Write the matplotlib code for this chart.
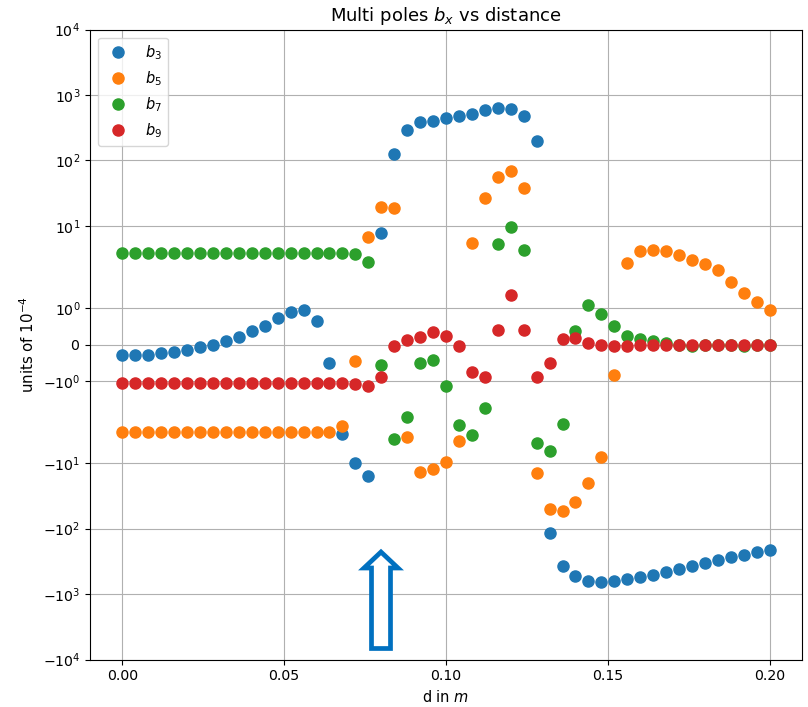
import numpy as np
import matplotlib
matplotlib.use("Agg")
import matplotlib.pyplot as plt
from matplotlib.patches import Polygon

# ---- data ----
d = np.round(np.arange(51) * 0.004, 4)

b3 = [-0.28, -0.28, -0.28, -0.24, -0.2, -0.14, -0.07, 0.0, 0.1, 0.21,
      0.37, 0.52, 0.73, 0.89, 0.96, 0.65, -0.51, -3.57, -10.0, -15.7,
      7.85, 126, 296, 384, 402, 442, 479, 519, 597, 641,
      606, 474, 199, -115, -373, -531, -626, -663, -626, -583,
      -557, -507, -460, -410, -373, -336, -299, -275, -250, -225, -212]

b5 = [-3.41] * 16 + [-3.3, -2.76, -0.46, 6.8,
      19.6, 19.0, -4.0, -13.6, -12.2, -9.6, -4.6, 5.5, 27, 55,
      68, 38, -14.3, -51, -54, -40, -20.5, -8.1, -0.83, 2.73,
      4.08, 4.27, 4.08, 3.54, 3.0, 2.61, 2.09, 1.72, 1.41, 1.16, 0.96]

b7 = [3.84] * 18 + [3.67, 2.83,
      -0.55, -4.26, -1.98, -0.51, -0.42, -1.14, -2.67, -3.79, -1.74, 5.28,
      9.7, 4.27, -4.9, -6.5, -2.51, 0.37, 1.08, 0.85, 0.52, 0.245,
      0.14, 0.09, 0.03, 0.0, -0.05, 0.0, 0.0, 0.0, -0.05, 0.0, 0.0]

b9 = [-1.05] * 18 + [-1.08, -1.15,
      -0.9, -0.03, 0.13, 0.21, 0.34, 0.245, -0.03, -0.75, -0.9, 0.41,
      1.37, 0.41, -0.9, -0.51, 0.16, 0.18, 0.04, 0.0, -0.04, -0.04,
      0.0, 0.0, 0.0, 0.0, 0.0, 0.0, 0.0, 0.0, 0.0, 0.0, 0.0]

series = [(b3, r"$b_3$"), (b5, r"$b_5$"), (b7, r"$b_7$"), (b9, r"$b_9$")]

plt.rcParams["font.size"] = 11

fig = plt.figure(figsize=(8.08, 7.07), dpi=100)
ax = fig.add_axes([90 / 808, (707 - 659.5) / 707, 712 / 808, 630 / 707])

for vals, lab in series:
    ax.plot(d, vals, "o", ms=8, label=lab)

ax.set_yscale("symlog", linthresh=2)
ax.set_ylim(-1e4, 1e4)
ax.set_xlim(-0.01, 0.21)
ax.set_xticks([0.0, 0.05, 0.10, 0.15, 0.20])
ax.set_xticklabels(["0.00", "0.05", "0.10", "0.15", "0.20"])
ax.tick_params(labelsize=10.2)
ax.grid(True, color="#b0b0b0", linewidth=0.8)
ax.set_axisbelow(True)

ax.set_title(r"Multi poles $b_x$ vs distance", fontsize=13)
ax.set_xlabel(r"d in $m$", fontsize=10.5)
ax.set_ylabel(r"units of $10^{-4}$", fontsize=10.8)
ax.legend(loc="upper left", fontsize=10.5, borderaxespad=0.55)

# outline arrow annotation (figure pixel coords -> fraction)
W, H = 808, 707
pts = [(381, 552), (398, 568), (390.5, 568), (390.5, 648.5),
       (371.5, 648.5), (371.5, 568), (364, 568)]
poly = Polygon([(x / W, 1 - y / H) for x, y in pts], closed=True,
               transform=fig.transFigure, facecolor="white",
               edgecolor="#0070C0", linewidth=3.4, joinstyle="miter",
               zorder=10)
fig.patches.append(poly)

fig.savefig("out.png", dpi=100)
